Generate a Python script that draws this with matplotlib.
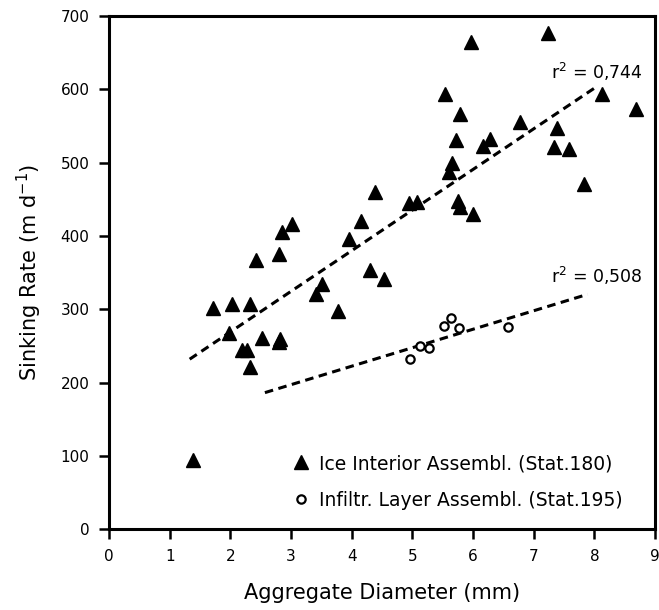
import numpy as np
import matplotlib
matplotlib.use("Agg")
import matplotlib.pyplot as plt

# Ice interior assemblages (Stat. 180)
ice_diam = [1.39, 1.71, 2.02, 2.33, 1.98, 2.20, 2.27, 2.33, 2.52, 2.80, 2.82,
            2.43, 2.80, 2.86, 3.02, 3.42, 3.51, 3.77, 3.95, 4.16, 4.31, 4.38,
            4.53, 4.95, 5.07, 5.54, 5.60, 5.65, 5.72, 5.79, 5.75, 5.78, 5.97,
            6.00, 6.16, 6.28, 6.77, 7.24, 7.34, 7.38, 7.59, 7.83, 8.12, 8.69]
ice_rate = [94, 302, 307, 307, 268, 245, 244, 221, 261, 255, 259,
            367, 376, 406, 417, 321, 334, 298, 396, 421, 354, 460,
            342, 445, 447, 594, 487, 499, 531, 567, 448, 439, 664,
            430, 523, 532, 555, 677, 521, 547, 518, 471, 593, 573]

# Infiltration layer assemblages (Stat. 195)
inf_diam = [4.96, 5.12, 5.28, 5.52, 5.63, 5.77, 6.58]
inf_rate = [232, 250, 247, 277, 288, 274, 276]

# regression lines: (slope, intercept, x start, x end)
ice_fit = (55.4, 158.3, 1.33, 8.06)
inf_fit = (25.2, 121.6, 2.57, 7.89)

fig = plt.figure(figsize=(6.59, 6.10), dpi=100)
ax = fig.add_axes([0.1654, 0.1323, 0.8285, 0.8415])

for slope, icpt, x0, x1 in [ice_fit, inf_fit]:
    xs = np.array([x0, x1])
    ax.plot(xs, slope * xs + icpt, color="black", lw=2.2, dashes=(2.8, 1.8))

ax.plot(ice_diam, ice_rate, linestyle="none", marker="^", ms=9.5,
        color="black", label="Ice Interior Assembl. (Stat.180)")
ax.plot(inf_diam, inf_rate, linestyle="none", marker="o", ms=6,
        mfc="white", mec="black", mew=1.6,
        label="Infiltr. Layer Assembl. (Stat.195)")

ax.text(8.8, 624, "r$^2$ = 0,744", ha="right", va="center", fontsize=12.5)
ax.text(8.8, 345, "r$^2$ = 0,508", ha="right", va="center", fontsize=12.5)

ax.set_xlim(0, 9)
ax.set_ylim(0, 700)
ax.set_xticks(range(0, 10))
ax.set_yticks(range(0, 701, 100))
ax.tick_params(direction="out", length=7, width=1.8, labelsize=11, pad=7)
for s in ax.spines.values():
    s.set_linewidth(2.2)

ax.set_xlabel("Aggregate Diameter (mm)", fontsize=15, labelpad=14)
ax.set_ylabel("Sinking Rate (m d$^{-1}$)", fontsize=15, labelpad=12)

ax.legend(loc="lower left", bbox_to_anchor=(0.30, 0.005), frameon=False,
          handletextpad=0.35, labelspacing=0.95, handlelength=1.2,
          prop={"size": 13.5})

fig.savefig("out.png", dpi=100)
